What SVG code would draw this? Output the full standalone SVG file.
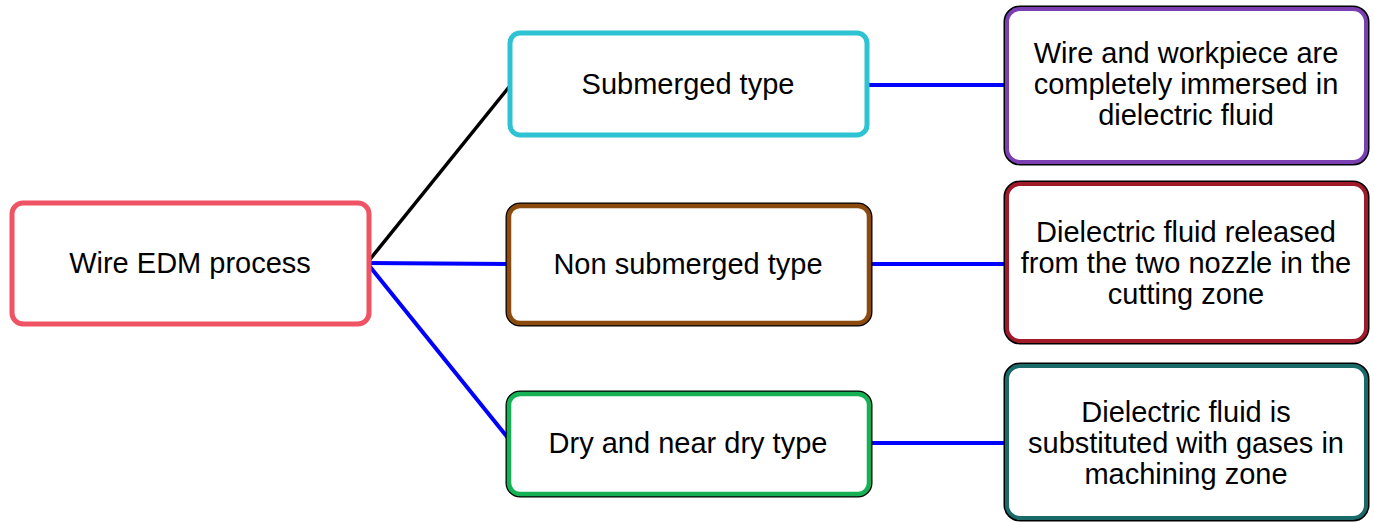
<svg xmlns="http://www.w3.org/2000/svg" width="1374" height="522" viewBox="0 0 1374 522">
<style>
text{font-family:"Liberation Sans",Arial,sans-serif;font-size:29px;fill:#000;text-anchor:middle}
.box{fill:#fff}
.outl{fill:none;stroke:#000;stroke-width:7}
.blue{stroke:#0000ff;stroke-width:4;fill:none}
.blk{stroke:#000;stroke-width:3.5;fill:none}
</style>
<rect width="1374" height="522" fill="#fff"/>
<g id="connectors">
<line class="blk" x1="367" y1="263" x2="509" y2="87"/>
<line class="blue" x1="367" y1="263" x2="508" y2="264"/>
<line class="blue" x1="367" y1="263" x2="508" y2="438"/>
<line class="blue" x1="868" y1="85" x2="1006" y2="85"/>
<line class="blue" x1="870" y1="264" x2="1006" y2="264"/>
<line class="blue" x1="870" y1="443" x2="1006" y2="443"/>
</g>
<g id="root">
<rect class="box" x="12" y="203" width="357" height="121" rx="11" stroke="#f05363" stroke-width="5"/>
<text x="190" y="273">Wire EDM process</text>
</g>
<g id="submerged">
<rect class="box" x="510" y="33" width="357" height="102" rx="10" stroke="#2ec3d2" stroke-width="5"/>
<text x="688" y="94">Submerged type</text>
</g>
<g id="nonsubmerged">
<rect class="outl" x="509" y="206" width="360" height="117" rx="11"/>
<rect class="box" x="509" y="206" width="360" height="117" rx="11" stroke="#8b4a0e" stroke-width="4.5"/>
<text x="688" y="274">Non submerged type</text>
</g>
<g id="dry">
<rect class="outl" x="509" y="394" width="360" height="100" rx="11"/>
<rect class="box" x="509" y="394" width="360" height="100" rx="11" stroke="#16b154" stroke-width="4.5"/>
<text x="688" y="453">Dry and near dry type</text>
</g>
<g id="desc1">
<rect class="outl" x="1007" y="9" width="359" height="153" rx="13"/>
<rect class="box" x="1007" y="9" width="359" height="153" rx="13" stroke="#7a3fb0" stroke-width="4"/>
<text x="1186" y="63">Wire and workpiece are</text>
<text x="1186" y="94">completely immersed in</text>
<text x="1186" y="125">dielectric fluid</text>
</g>
<g id="desc2">
<rect class="outl" x="1007" y="184" width="359" height="157" rx="13"/>
<rect class="box" x="1007" y="184" width="359" height="157" rx="13" stroke="#a01a2a" stroke-width="4"/>
<text x="1186" y="242">Dielectric fluid released</text>
<text x="1186" y="273">from the two nozzle in the</text>
<text x="1186" y="304">cutting zone</text>
</g>
<g id="desc3">
<rect class="outl" x="1007" y="366" width="359" height="152" rx="13"/>
<rect class="box" x="1007" y="366" width="359" height="152" rx="13" stroke="#1a6a6a" stroke-width="4"/>
<text x="1186" y="422">Dielectric fluid is</text>
<text x="1186" y="453">substituted with gases in</text>
<text x="1186" y="484">machining zone</text>
</g>
</svg>
